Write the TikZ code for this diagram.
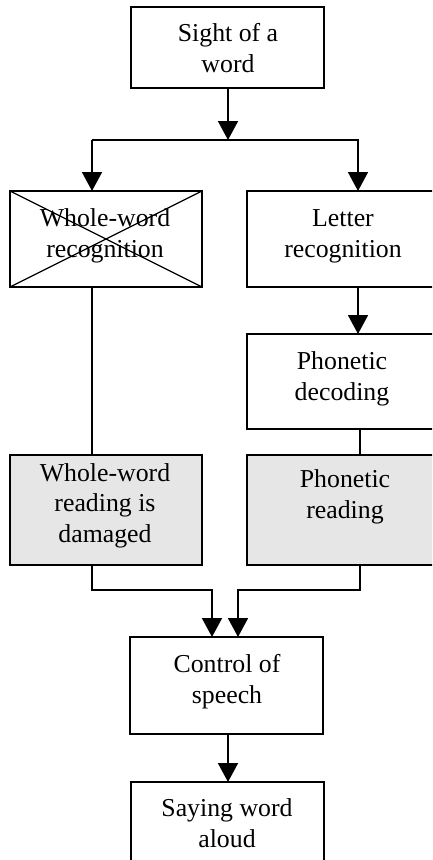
\documentclass[tikz,border=0pt]{standalone}
\usepackage{fontspec}
\setmainfont{Liberation Serif}
\usetikzlibrary{arrows.meta}
\definecolor{boxgray}{RGB}{230,230,230}
\begin{document}
\begin{tikzpicture}[x=1pt,y=-1pt,
  box/.style={draw, line width=1.8pt, inner sep=0pt, outer sep=0pt, minimum width=192pt},
  shaded/.style={box, fill=boxgray},
  txt/.style={align=center, font=\fontsize{25.8}{30.5}\selectfont, inner sep=0pt, anchor=base},
  flow/.style={line width=1.8pt, -{Triangle[width=20pt,length=19pt]}},
  link/.style={line width=1.8pt}]
\useasboundingbox (0,0) rectangle (432,860);
\clip (0,0) rectangle (432,860);

% boxes
\node[box, minimum width=193pt, minimum height=81pt] (sight) at (227.5,47.5) {};
\node[box, minimum height=96pt] (whole) at (106,239) {};
\node[box, minimum height=96pt] (letter) at (343,239) {};
\node[box, minimum height=95pt] (decode) at (343,381.5) {};
\node[shaded, minimum height=110pt] (damaged) at (106,510) {};
\node[shaded, minimum height=110pt] (phonread) at (343,510) {};
\node[box, minimum width=193pt, minimum height=97pt] (control) at (226.5,685.5) {};
\node[box, minimum width=193pt, minimum height=97pt] (saying) at (227.5,830.5) {};

% crossed-out route
\draw[line width=1.3pt] (whole.north west) -- (whole.south east)
                        (whole.south west) -- (whole.north east);

% labels (anchored on the baseline of the last line)
\node[txt] (sight-t) at (228,72) {Sight of a\\word};
\node[txt] (whole-t) at (105,257) {Whole-word\\recognition};
\node[txt] (letter-t) at (343,257) {Letter\\recognition};
\node[txt] (decode-t) at (342,400) {Phonetic\\decoding};
\node[txt] (damaged-t) at (105,542) {Whole-word\\reading is\\damaged};
\node[txt] (phonread-t) at (345,518) {Phonetic\\reading};
\node[txt] (control-t) at (227,703) {Control of\\speech};
\node[txt] (saying-t) at (227,847) {Saying word\\aloud};

% column positions of the connectors
\coordinate (colL) at (92,0);
\coordinate (colR) at (358,0);
\coordinate (colRR) at (360,0);
\coordinate (joinL) at (212,0);
\coordinate (joinR) at (238,0);
\coordinate (split) at (228,140);
\coordinate (merge) at (0,590);

% connectors
\draw[flow] (sight.south -| split) -- (split);
\draw[flow] (split -| colL) -- (split -| colR) -- (letter.north -| colR);
\draw[flow] (split -| colL) -- (whole.north -| colL);
\draw[link] (whole.south -| colL) -- (damaged.north -| colL);
\draw[flow] (letter.south -| colR) -- (decode.north -| colR);
\draw[link] (decode.south -| colRR) -- (phonread.north -| colRR);
\draw[flow] (damaged.south -| colL) -- (merge -| colL) -- (merge -| joinL) -- (control.north -| joinL);
\draw[flow] (phonread.south -| colRR) -- (merge -| colRR) -- (merge -| joinR) -- (control.north -| joinR);
\draw[flow] (control.south -| split) -- (saying.north -| split);
\end{tikzpicture}
\end{document}
